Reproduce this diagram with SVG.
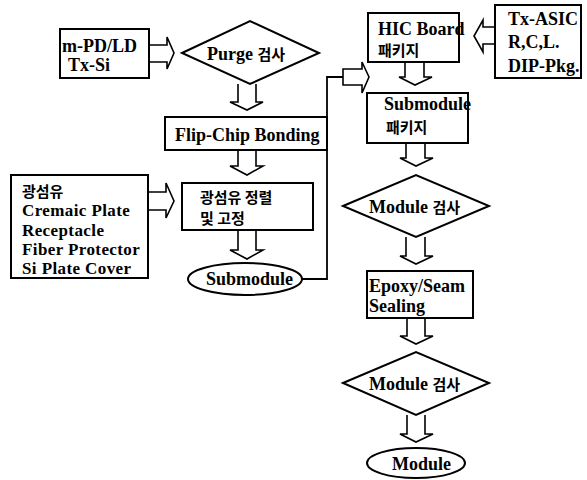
<svg xmlns="http://www.w3.org/2000/svg" width="587" height="480" viewBox="0 0 587 480">
<style>
  .box { fill: #fff; stroke: #000; stroke-width: 2; }
  .arr { fill: #fff; stroke: #000; stroke-width: 1.6; stroke-linejoin: miter; }
  .line { fill: none; stroke: #000; stroke-width: 1.8; }
  text { font-family: "Liberation Serif", "Noto Sans CJK KR", serif; font-size: 18px; font-weight: bold; fill: #000; }
  .kr { font-family: "Noto Sans CJK KR", "Liberation Serif", sans-serif; font-size: 15px; font-weight: bold; }
  .sm { font-size: 17px; letter-spacing: 0.4px; }
</style>
<rect width="587" height="480" fill="#fff"/>

<g id="connectors">
  <path class="arr" d="M149,45 H167 V37 L174,53 L167,69 V62 H149"/>
  <path class="arr" d="M238,84 V102 H230 L247,110 L263,102 H256 V84"/>
  <path class="arr" d="M238,150 V166 H230 L247,175 L263,166 H256 V150"/>
  <path class="arr" d="M148,192 H166 V183 L174,201 L166,218 V210 H148"/>
  <path class="arr" d="M238,230 V250 H230 L247,259 L263,250 H256 V230"/>
  <polyline class="line" points="302,279 327,279 327,77 343,77"/>
  <path class="arr" d="M343,69 H362 V62 L369,77 L362,93 V85 H343 Z"/>
  <path class="arr" d="M495,27 H483 V20 L474,36 L483,52 V44 H495"/>
  <path class="arr" d="M405,62 V77 H399 L415,85 L432,77 H424 V62"/>
  <path class="arr" d="M406,143 V158 H400 L416,166 L433,158 H425 V143"/>
  <path class="arr" d="M406,237 V256 H400 L416,264 L433,256 H425 V237"/>
  <path class="arr" d="M407,318 V336 H400 L416,344 L433,336 H425 V318"/>
  <path class="arr" d="M407,415 V434 H400 L416,442 L433,434 H425 V415"/>
</g>

<g id="n-mpd">
  <rect class="box" x="60" y="29" width="89" height="49"/>
  <text x="62" y="52">m-PD/LD</text>
  <text x="68" y="71">Tx-Si</text>
</g>

<g id="n-purge">
  <polygon class="box" points="182,53 250,21 319,53 250,84"/>
  <text x="207" y="60">Purge <tspan class="kr">검사</tspan></text>
</g>

<g id="n-flipchip">
  <rect class="box" x="165" y="117" width="162" height="33"/>
  <text x="175" y="141">Flip-Chip Bonding</text>
</g>

<g id="n-materials">
  <rect class="box" x="11" y="175" width="137" height="103"/>
  <text class="kr" x="22" y="197">광섬유</text>
  <text class="sm" x="22" y="216">Cremaic Plate</text>
  <text class="sm" x="22" y="235.5">Receptacle</text>
  <text class="sm" x="22" y="255">Fiber Protector</text>
  <text class="sm" x="22" y="274">Si Plate Cover</text>
</g>

<g id="n-align">
  <rect class="box" x="182" y="183" width="131" height="47"/>
  <text class="kr" x="200" y="203">광섬유 정렬</text>
  <text class="kr" x="200" y="224">및 고정</text>
</g>

<g id="n-submodule">
  <ellipse class="box" cx="245" cy="279" rx="57" ry="16"/>
  <text x="206" y="285">Submodule</text>
</g>

<g id="n-hic">
  <rect class="box" x="368" y="13" width="91" height="49"/>
  <text x="378" y="35">HIC Board</text>
  <text class="kr" x="378" y="56">패키지</text>
</g>

<g id="n-txasic">
  <rect class="box" x="495" y="5" width="86" height="73"/>
  <text x="508" y="25">Tx-ASIC</text>
  <text x="508" y="48">R,C,L.</text>
  <text x="508" y="72">DIP-Pkg.</text>
</g>

<g id="n-subpkg">
  <rect class="box" x="367" y="93" width="101" height="50"/>
  <text x="384" y="110">Submodule</text>
  <text class="kr" x="386" y="133">패키지</text>
</g>

<g id="n-check1">
  <polygon class="box" points="343,206 416,175 489,206 416,237"/>
  <text x="369" y="213">Module <tspan class="kr">검사</tspan></text>
</g>

<g id="n-epoxy">
  <rect class="box" x="367" y="271" width="106" height="47"/>
  <text x="369" y="292">Epoxy/Seam</text>
  <text x="369" y="312">Sealing</text>
</g>

<g id="n-check2">
  <polygon class="box" points="343,383 416,352 489,383 416,415"/>
  <text x="369" y="390">Module <tspan class="kr">검사</tspan></text>
</g>

<g id="n-module">
  <ellipse class="box" cx="416" cy="463" rx="49" ry="15"/>
  <text x="392" y="470">Module</text>
</g>
</svg>
